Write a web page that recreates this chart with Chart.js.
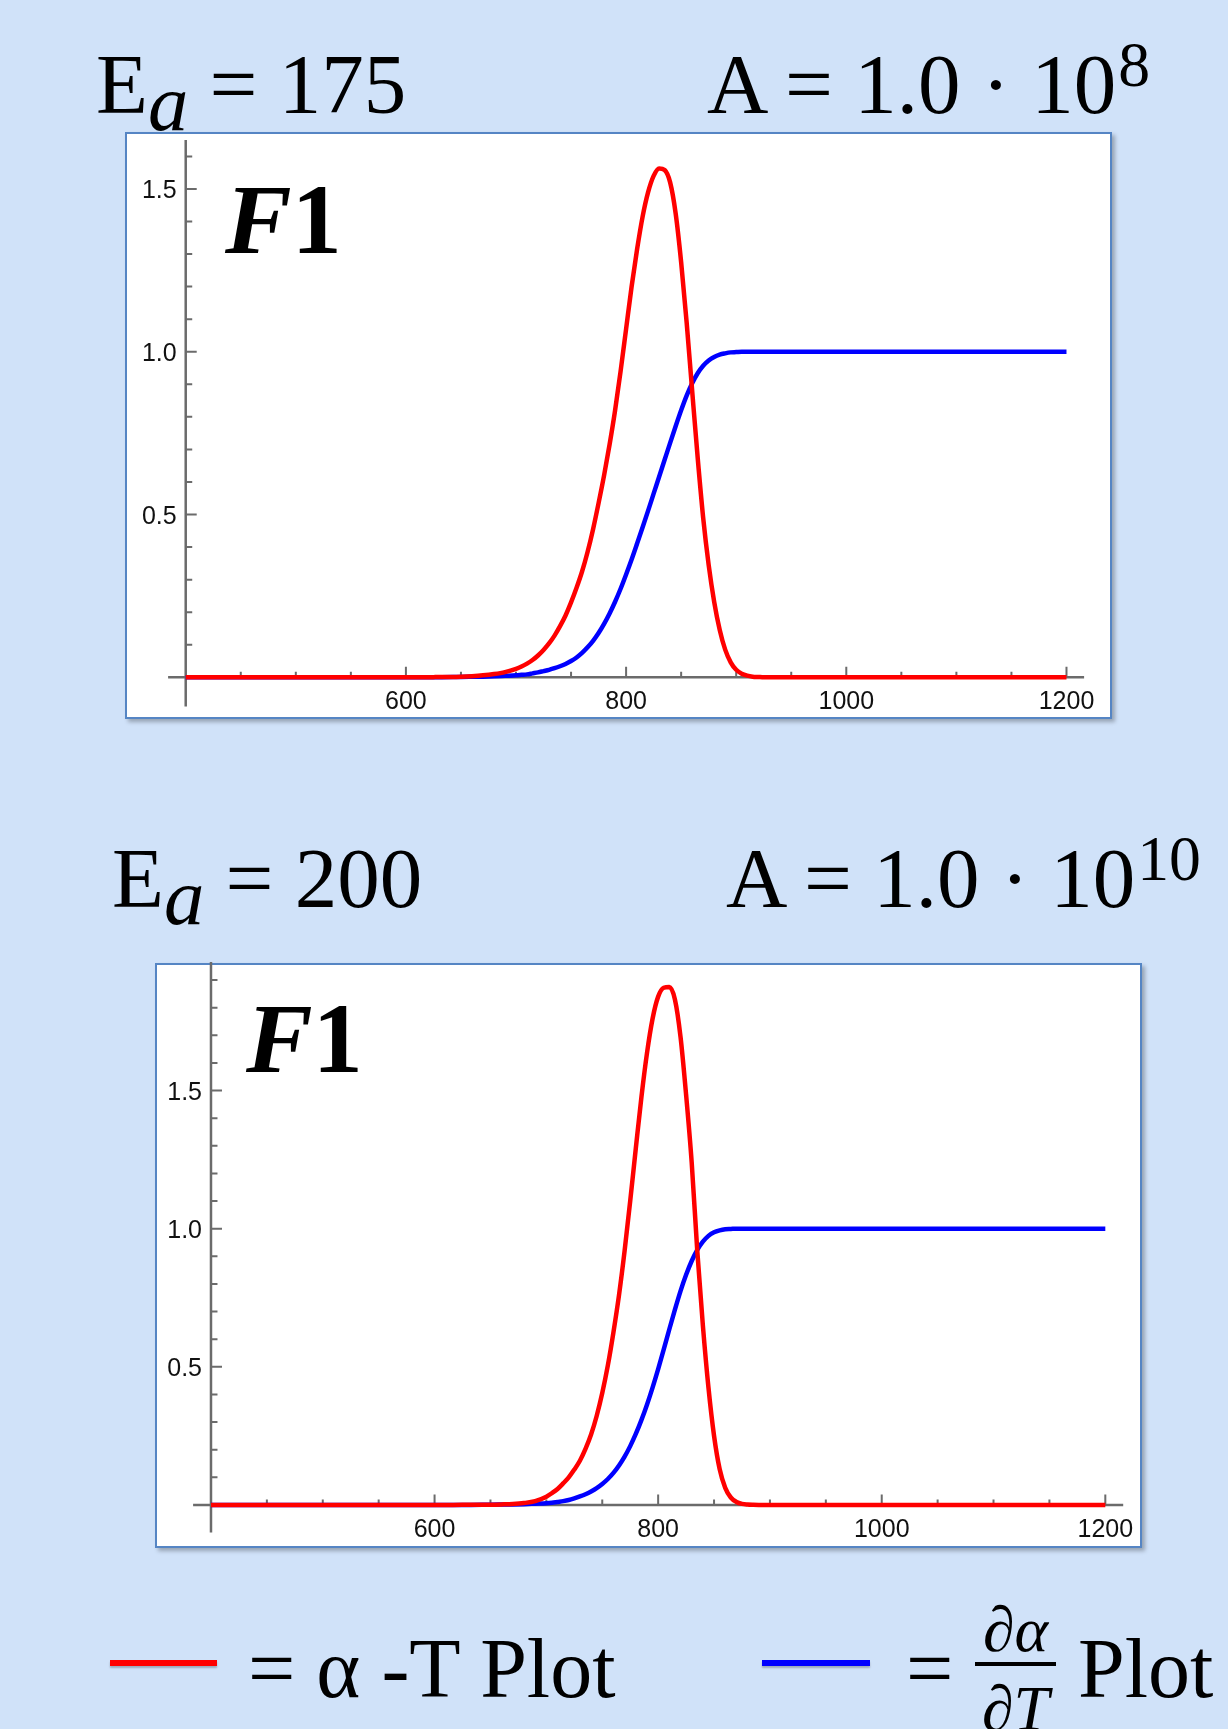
<!DOCTYPE html>
<html lang="en">
<head>
  <meta charset="UTF-8" />
  <title>F1 kinetics plots</title>
  <script src="https://cdn.jsdelivr.net/npm/chart.js"></script>
  <style>
    html, body { margin: 0; padding: 0; }
    body {
      width: 1228px;
      height: 1729px;
      background: #d0e2f9;
      position: relative;
      overflow: hidden;
      font-family: "Liberation Serif", "Times New Roman", serif;
      color: #000;
    }
    .txt { position: absolute; white-space: pre; line-height: 1; }
    .head { font-size: 85px; }
    .sub { position: relative; top: 0.21em; font-style: italic; font-size: 0.95em; }
    .sup { position: relative; top: -0.42em; font-size: 0.75em; margin-left: 2px; }
    .frame {
      position: absolute;
      background: #fff;
      border: 2px solid #5585c4;
      box-sizing: border-box;
      box-shadow: 3px 3px 4px rgba(0,0,0,0.28);
    }
    canvas { position: absolute; }
    .tag { font-size: 100px; font-weight: bold; }
    .legend { font-size: 84px; }
    .frac { font-size: 64px; font-style: italic; text-align: center; width: 81px; }
    .bar { position: absolute; height: 6px; box-shadow: 0 2px 2px rgba(0,0,0,0.25); }
  </style>
</head>
<body>
  <div class="txt head" style="left:96px; top:42px;">E<span class="sub">a</span> = 175</div>
  <div class="txt head" style="left:707px; top:42px;">A = 1.0 · 10<span class="sup">8</span></div>

  <div class="frame" style="left:125px; top:132px; width:987px; height:587px;"></div>
  <canvas id="chartTop" width="987" height="587" style="left:125px; top:132px; width:987px; height:587px;"></canvas>
  <div class="txt tag" style="left:225px; top:170px;"><i>F</i>1</div>

  <div class="txt head" style="left:112px; top:836px;">E<span class="sub">a</span> = 200</div>
  <div class="txt head" style="left:726px; top:836px;">A = 1.0 · 10<span class="sup">10</span></div>

  <div class="frame" style="left:155px; top:963px; width:987px; height:585px;"></div>
  <canvas id="chartBottom" width="987" height="593" style="left:155px; top:955px; width:987px; height:593px;"></canvas>
  <div class="txt tag" style="left:246px; top:989px;"><i>F</i>1</div>

  <div class="bar" style="left:110px; top:1660px; width:107px; background:#ff0000;"></div>
  <div class="txt legend" style="left:248px; top:1627px;">= α -T Plot</div>
  <div class="bar" style="left:762px; top:1660px; width:108px; background:#0000ff;"></div>
  <div class="txt legend" style="left:906px; top:1627px;">=</div>
  <div class="txt frac" style="left:975px; top:1598px;">∂α</div>
  <div style="position:absolute; left:975px; top:1662px; width:81px; height:4px; background:#000;"></div>
  <div class="txt frac" style="left:975px; top:1677px;">∂T</div>
  <div class="txt legend" style="left:1078px; top:1627px;">Plot</div>

  <script>
    // temperature samples (shared by both panels)
    const temps = [400, 450, 500, 550, 600, 625, 650, 660, 670, 680, 690,
      700, 705, 710, 715, 720, 725, 730, 735, 740, 745,
      750, 755, 760, 765, 770, 775, 780, 785, 790, 795,
      800, 805, 810, 815, 820, 825, 830, 835, 840, 845,
      850, 855, 860, 865, 870, 875, 880, 885, 890, 895,
      900, 905, 910, 915, 920, 925, 930,
      940, 960, 1000, 1100, 1200];

    // Ea = 175, A = 1e8
    const redTop = [0, 0, 0, 0, 0, 0.0005, 0.002, 0.0035, 0.006, 0.01, 0.016,
      0.026, 0.033, 0.042, 0.053, 0.067, 0.084, 0.104, 0.128, 0.157, 0.19,
      0.23, 0.275, 0.325, 0.385, 0.455, 0.535, 0.62, 0.715, 0.82, 0.94,
      1.07, 1.2, 1.315, 1.415, 1.49, 1.54, 1.563, 1.558, 1.52, 1.425,
      1.275, 1.09, 0.88, 0.675, 0.49, 0.345, 0.232, 0.146, 0.085, 0.046,
      0.023, 0.011, 0.005, 0.002, 0.001, 0, 0,
      0, 0, 0, 0, 0];
    const blueTop = [0, 0, 0, 0, 0, 0, 0.001, 0.0015, 0.002, 0.003, 0.0045,
      0.006, 0.0075, 0.009, 0.012, 0.015, 0.019, 0.023, 0.028, 0.034, 0.041,
      0.05, 0.061, 0.075, 0.092, 0.112, 0.136, 0.164, 0.196, 0.232, 0.272,
      0.316, 0.362, 0.411, 0.461, 0.512, 0.564, 0.616, 0.668, 0.72, 0.771,
      0.82, 0.865, 0.903, 0.934, 0.957, 0.973, 0.984, 0.991, 0.995, 0.998,
      0.999, 1, 1, 1, 1, 1, 1,
      1, 1, 1, 1, 1];

    // Ea = 200, A = 1e10
    const redBottom = [0, 0, 0, 0, 0, 0.0005, 0.001, 0.002, 0.0035, 0.007, 0.014,
      0.03, 0.043, 0.058, 0.078, 0.1, 0.128, 0.16, 0.203, 0.255, 0.322,
      0.405, 0.505, 0.625, 0.76, 0.92, 1.1, 1.29, 1.475, 1.635, 1.76,
      1.84, 1.872, 1.875, 1.83, 1.695, 1.485, 1.24, 0.92, 0.65, 0.425,
      0.25, 0.13, 0.062, 0.027, 0.011, 0.004, 0.0015, 0.0005, 0, 0,
      0, 0, 0, 0, 0, 0, 0,
      0, 0, 0, 0, 0];
    const blueBottom = [0, 0, 0, 0, 0, 0, 0.001, 0.0015, 0.002, 0.003, 0.0045,
      0.006, 0.008, 0.011, 0.014, 0.018, 0.024, 0.031, 0.039, 0.049, 0.061,
      0.076, 0.094, 0.116, 0.143, 0.175, 0.213, 0.257, 0.307, 0.363, 0.425,
      0.492, 0.563, 0.636, 0.707, 0.774, 0.833, 0.883, 0.923, 0.953, 0.974,
      0.987, 0.994, 0.998, 0.999, 1, 1, 1, 1, 1, 1,
      1, 1, 1, 1, 1, 1, 1,
      1, 1, 1, 1, 1];

    // ticks
    const xMajorTicks = [600, 800, 1000, 1200];
    const xTickLabels = ['600', '800', '1000', '1200'];
    const xMinorTicks = [450, 500, 550, 650, 700, 750, 850, 900, 950, 1050, 1100, 1150];
    const yMajorTicks = [0.5, 1.0, 1.5];
    const yTickLabels = ['0.5', '1.0', '1.5'];
    const yMinorTop = [0.1, 0.2, 0.3, 0.4, 0.6, 0.7, 0.8, 0.9, 1.1, 1.2, 1.3, 1.4, 1.6];
    const yMinorBottom = [0.1, 0.2, 0.3, 0.4, 0.6, 0.7, 0.8, 0.9, 1.1, 1.2, 1.3, 1.4, 1.6, 1.7, 1.8, 1.9];

    // mathematica style axes crossing at (400, 0), ticks pointing inward
    const mmaAxes = {
      id: 'mmaAxes',
      beforeDatasetsDraw(chart, args, opts) {
        const { ctx, chartArea: a } = chart;
        const x = chart.scales.x, y = chart.scales.y;
        const x0 = x.getPixelForValue(400);
        const y0 = y.getPixelForValue(0);
        ctx.save();
        ctx.strokeStyle = '#6b6b6b';
        ctx.lineWidth = 2.5;
        ctx.beginPath();
        ctx.moveTo(a.left, y0); ctx.lineTo(a.right, y0);
        ctx.moveTo(x0, a.top); ctx.lineTo(x0, a.bottom);
        ctx.stroke();

        ctx.lineWidth = 2;
        ctx.beginPath();
        xMajorTicks.forEach(v => {
          const p = x.getPixelForValue(v);
          ctx.moveTo(p, y0); ctx.lineTo(p, y0 - 10.5);
        });
        xMinorTicks.forEach(v => {
          const p = x.getPixelForValue(v);
          ctx.moveTo(p, y0); ctx.lineTo(p, y0 - 5.5);
        });
        yMajorTicks.forEach(v => {
          const p = y.getPixelForValue(v);
          ctx.moveTo(x0, p); ctx.lineTo(x0 + 11, p);
        });
        opts.yMinor.forEach(v => {
          const p = y.getPixelForValue(v);
          ctx.moveTo(x0, p); ctx.lineTo(x0 + 6.5, p);
        });
        ctx.stroke();

        ctx.fillStyle = '#111';
        ctx.font = '25px "Liberation Sans", Arial, sans-serif';
        ctx.textBaseline = 'alphabetic';
        ctx.textAlign = 'center';
        xMajorTicks.forEach((v, i) => ctx.fillText(xTickLabels[i], x.getPixelForValue(v), y0 + 32));
        ctx.textAlign = 'right';
        yMajorTicks.forEach((v, i) => ctx.fillText(yTickLabels[i], x0 - 9, y.getPixelForValue(v) + 9.5));
        ctx.restore();
      }
    };

    function makeChart(id, red, blue, yMin, yMax, pad, yMinor) {
      const ctx = document.getElementById(id).getContext('2d');
      return new Chart(ctx, {
        type: 'line',
        data: {
          datasets: [
            {
              data: temps.map((t, i) => ({ x: t, y: red[i] })),
              borderColor: '#ff0000',
              borderWidth: 4.5,
              pointRadius: 0,
              cubicInterpolationMode: 'monotone',
              order: 0
            },
            {
              data: temps.map((t, i) => ({ x: t, y: blue[i] })),
              borderColor: '#0000ff',
              borderWidth: 4.5,
              pointRadius: 0,
              cubicInterpolationMode: 'monotone',
              order: 1
            }
          ]
        },
        options: {
          responsive: false,
          maintainAspectRatio: false,
          animation: false,
          devicePixelRatio: 1,
          layout: { padding: pad },
          scales: {
            x: { type: 'linear', min: 384, max: 1216, display: false },
            y: { type: 'linear', min: yMin, max: yMax, display: false }
          },
          plugins: {
            legend: { display: false },
            tooltip: { enabled: false },
            mmaAxes: { yMinor: yMinor }
          }
        },
        plugins: [mmaAxes]
      });
    }

    makeChart('chartTop', redTop, blueTop, -0.09, 1.65,
      { left: 43.1, right: 27.9, top: 8.1, bottom: 12.4 }, yMinorTop);
    makeChart('chartBottom', redBottom, blueBottom, -0.1, 1.965,
      { left: 38.1, right: 18.8, top: 7.1, bottom: 15.4 }, yMinorBottom);
  </script>
</body>
</html>
